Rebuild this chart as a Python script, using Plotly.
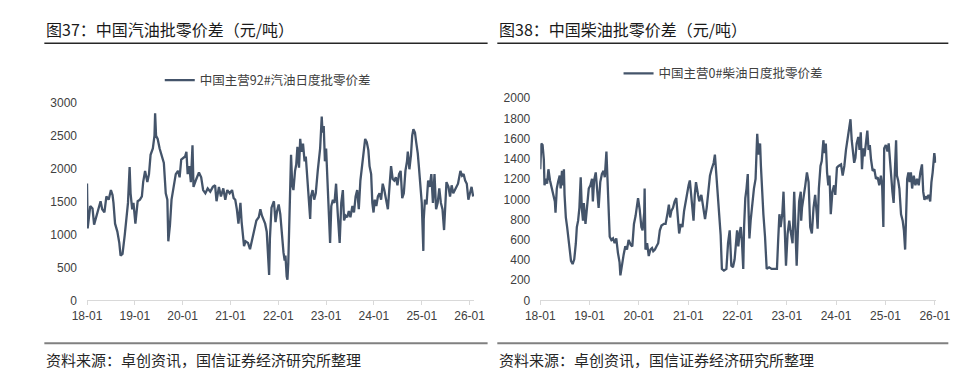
import numpy as np
import pandas as pd
import plotly.graph_objects as go

# ---------------- data ----------------
# x positions are months elapsed since 2018-01
gas_month = [
    0.0, 0.16, 0.81, 1.38, 1.78, 2.19, 2.75, 3.40, 3.81, 4.37, 4.86, 5.43, 6.0, 6.40, 6.64,
    7.04, 7.61, 8.10, 8.42, 8.91, 9.47, 9.88, 10.28, 10.69, 10.93, 11.34, 11.66, 12.14, 12.71,
    13.28, 13.77, 14.09, 14.57, 15.14, 15.55, 15.95, 16.52, 16.93, 17.09, 17.33, 17.73, 18.22,
    18.79, 19.28, 19.76, 20.16, 20.40, 20.81, 21.21, 21.78, 22.27, 22.83, 23.24, 23.64, 24.29,
    24.61, 24.94, 25.26, 25.67, 26.06, 26.47, 26.72, 27.28, 28.09, 28.65, 29.14, 29.70, 30.29,
    30.93, 31.58, 32.14, 32.5, 33.1, 33.6, 34.2, 34.7, 35.2, 35.8, 36.4, 36.8, 37.2, 37.6,
    38.0, 38.2, 38.5, 38.8, 39.2, 39.4, 39.8, 40.4, 40.9, 41.5, 41.9, 42.5, 43.1, 43.5, 43.9,
    44.3, 44.7, 45.1, 45.5, 45.7, 45.9, 46.3, 46.9, 47.3, 47.7, 48.1, 48.5, 48.7, 49.0, 49.3,
    49.6, 49.8, 50.1, 50.3, 50.5, 50.7, 51.0, 51.2, 51.5, 51.8, 52.2, 52.5, 52.8, 53.2, 53.5,
    53.8, 54.2, 54.6, 54.9, 55.3, 55.8, 56.0, 56.2, 56.6, 57.0, 57.4, 57.9, 58.2, 58.5, 58.9,
    59.1, 59.4, 59.7, 60.0, 60.3, 60.6, 61.0, 61.3, 61.7, 62.1, 62.5, 62.9, 63.1, 63.4, 63.8,
    64.2, 64.5, 64.9, 65.3, 65.7, 66.1, 66.6, 67.0, 67.4, 67.8, 68.2, 68.6, 69.0, 69.4, 69.8,
    70.2, 70.6, 70.9, 71.3, 71.6, 71.9, 72.2, 72.6, 73.0, 73.4, 73.8, 74.2, 74.6, 75.1, 75.5,
    75.9, 76.3, 76.7, 77.1, 77.5, 77.9, 78.3, 78.7, 79.1, 79.5, 79.9, 80.3, 80.5, 80.9, 81.3,
    81.6, 81.9, 82.3, 82.6, 83.0, 83.3, 83.7, 84.0, 84.4, 84.5, 84.8, 85.2, 85.6, 86.0, 86.4,
    86.8, 87.2, 87.6, 88.0, 88.4, 88.8, 89.2, 89.6, 89.9, 90.2, 90.7, 91.1, 91.5, 91.9, 92.5,
    93.1, 93.7, 94.1, 94.5, 94.9, 95.3, 95.7, 96.1, 96.5, 96.9,
]
gas_value = [
    1780, 1095, 1436, 1400, 1153, 1251, 1363, 1509, 1387, 1339, 1582, 1533, 1679, 1606, 1484,
    1168, 1047, 876, 682, 707, 998, 1290, 1484, 2029, 1630, 1387, 1484, 1168, 1509,
    1533, 1582, 1801, 1971, 1801, 1922, 2215, 2312, 2507, 2847, 2507, 2458, 2312,
    2190, 2093, 1631, 1533, 900, 1144, 1533, 1728, 1922, 1971, 1874, 2142, 2166,
    2190, 2260, 1922, 2044, 1801, 2360, 1728, 1825, 1947, 1874, 1680, 1630, 1704,
    1655, 1728, 1752, 1509, 1728, 1582, 1704, 1533, 1679, 1630, 1679, 1557, 1533, 1387,
    1168, 1338, 1484, 1192, 949, 827, 900, 876, 779, 949, 1095, 1217, 1265, 1387, 1290,
    1241, 1168, 1046, 608, 389, 949, 1411, 1509, 1192, 1362, 1460, 1314, 1144, 900, 730,
    608, 681, 365, 316, 560, 1144, 1874, 2215, 1752, 1679, 1971, 2068, 2336, 2020, 2458,
    2263, 2385, 2117, 2190, 1776, 1411, 1241, 1582, 1679, 1533, 1630, 1971, 2117, 2312, 2798,
    2555, 2652, 2117, 2312, 1874, 1241, 876, 1436, 1533, 1484, 1776, 1338, 1095, 876, 1484,
    1679, 1217, 1290, 1265, 1362, 1265, 1436, 1338, 1582, 1679, 1387, 1825, 2020, 2190, 2458,
    2409, 2287, 2044, 1922, 1484, 1338, 1533, 1436, 1582, 1630, 1533, 1776, 1679, 1484, 1387,
    1728, 2044, 1850, 1825, 1874, 1752, 1922, 1971, 1557, 1630, 1971, 2117, 2263, 1996, 2215,
    2507, 2604, 2555, 2409, 2239, 2020, 1752, 1484, 754, 1241, 1533, 1460, 1825, 1728, 1922,
    1484, 1922, 1387, 1484, 1704, 1484, 1387, 1071, 1387, 1801, 1728, 1582, 1752, 1630, 1704,
    1776, 1971, 1898, 1922, 1825, 1776, 1533, 1630, 1728, 1582,
]

diesel_month = [
    0.0, 0.24, 0.56, 0.87, 1.03, 1.35, 1.66, 1.98, 2.37, 2.76, 3.16, 3.55, 3.71, 4.02, 4.33,
    4.73, 4.96, 5.28, 5.59, 5.75, 5.91, 6.22, 6.54, 6.85, 7.17, 7.48, 7.87, 8.27, 8.66, 8.9,
    9.21, 9.52, 9.84, 10.1, 10.4, 10.6, 11.0, 11.4, 11.8, 12.2, 12.6, 12.8, 13.1, 13.5, 13.8,
    14.2, 14.6, 15.0, 15.4, 15.7, 16.1, 16.4, 16.7, 16.9, 17.3, 17.7, 18.1, 18.5, 18.9, 19.3,
    19.5, 19.9, 20.3, 20.7, 21.1, 21.5, 22.0, 22.4, 22.8, 23.2, 23.6, 23.8, 24.2, 24.6, 24.9,
    25.3, 25.4, 25.6, 26.0, 26.4, 26.8, 27.2, 27.5, 27.9, 28.3, 28.7, 29.1, 29.5, 30.1, 30.5,
    31.0, 31.3, 31.6, 31.9, 32.3, 32.7, 33.1, 33.5, 33.8, 34.2, 34.6, 35.0, 35.6, 36.1, 36.4,
    36.8, 37.3, 37.6, 37.9, 38.4, 38.7, 39.2, 39.7, 40.1, 40.5, 40.9, 41.3, 41.7, 42.2, 42.5,
    42.9, 43.3, 43.6, 43.9, 44.2, 44.7, 45.3, 45.7, 46.1, 46.5, 46.9, 47.3, 47.9, 48.2, 48.5,
    48.8, 49.1, 49.4, 49.6, 49.9, 50.2, 50.5, 50.7, 50.9, 51.2, 51.6, 52.0, 52.4, 52.6, 52.8,
    53.1, 53.5, 53.7, 54.0, 54.3, 54.7, 55.1, 55.7, 56.3, 57.1, 57.6, 57.9, 58.2, 58.5, 58.9,
    59.2, 59.5, 59.8, 60.2, 60.6, 60.9, 61.4, 61.8, 62.2, 62.4, 62.7, 63.0, 63.4, 63.5, 63.7,
    64.1, 64.5, 64.9, 65.3, 65.7, 66.1, 66.5, 66.9, 67.3, 67.5, 67.8, 68.2, 68.5, 68.9, 69.2,
    69.5, 69.8, 70.1, 70.4, 70.7, 71.1, 71.5, 71.8, 72.2, 72.6, 73.2, 73.6, 74.0, 74.4, 74.8,
    75.2, 75.5, 75.8, 76.1, 76.4, 76.7, 77.0, 77.4, 77.7, 78.0, 78.3, 78.6, 78.9, 79.2, 79.6,
    79.9, 80.2, 80.5, 80.9, 81.3, 81.7, 82.1, 82.5, 82.9, 83.2, 83.5, 83.7, 84.1, 84.5, 84.8,
    85.1, 85.4, 85.7, 86.0, 86.3, 86.6, 86.8, 87.1, 87.4, 87.8, 88.2, 88.5, 88.8, 89.0, 89.3,
    89.6, 89.9, 90.2, 90.5, 90.9, 91.3, 91.7, 92.1, 92.5, 92.9, 93.2, 93.5, 93.8, 94.1, 94.5,
    94.9, 95.2, 95.5, 95.9, 96.2,
]
diesel_value = [
    1298, 1553, 1537, 1394, 1139, 1203, 1155, 1298, 1187, 1107, 1044, 980, 869, 1107, 1171,
    1235, 1107, 1282, 1139, 1298, 1044, 821, 726, 598, 503, 391, 360, 407, 566, 726,
    789, 916, 1219, 916, 789, 964, 757, 916, 1107, 1139, 1203, 980, 1187, 1267, 1107,
    916, 1171, 1251, 1282, 1219, 1473, 1107, 916, 630, 598, 614, 566, 614, 471, 376,
    248, 376, 455, 535, 503, 598, 551, 535, 757, 837, 932, 1012, 900, 726, 694,
    869, 1107, 503, 566, 439, 503, 519, 487, 503, 535, 566, 694, 741, 757, 757,
    869, 948, 821, 885, 916, 980, 1012, 789, 662, 757, 726, 885, 1044, 1139, 1187,
    1012, 789, 1044, 1171, 1044, 980, 1044, 932, 805, 916, 1107, 1235, 1298, 1362, 1442,
    1203, 1012, 726, 646, 312, 296, 312, 566, 694, 344, 328, 407, 694, 535, 662,
    726, 566, 312, 726, 1012, 1107, 1251, 885, 614, 789, 980, 1107, 1203, 1489, 1648,
    1442, 1553, 1330, 1044, 853, 630, 312, 328, 312, 312, 312, 598, 853, 726, 853,
    1076, 726, 344, 662, 789, 694, 566, 1076, 535, 344, 694, 980, 1076, 789, 916,
    1012, 1139, 1267, 1171, 726, 662, 916, 1044, 853, 710, 1107, 1330, 1378, 1585, 1457,
    1553, 1267, 1139, 1235, 853, 1076, 1139, 1044, 1314, 1330, 1346, 1235, 1330, 1489, 1585,
    1712, 1792, 1585, 1489, 1362, 1410, 1553, 1617, 1489, 1664, 1298, 1505, 1426, 1537, 1680,
    1489, 1537, 1394, 1282, 1298, 1203, 1219, 1139, 1235, 1139, 726, 1505, 1537, 1473, 1553,
    1362, 1235, 1076, 964, 1267, 1585, 1235, 1187, 1107, 853, 789, 694, 503, 726, 1203,
    1267, 1171, 1267, 1107, 1235, 1139, 1203, 1139, 1267, 1346, 1076, 996, 1028, 1012, 1044,
    980, 1171, 1267, 1457, 1362,
]

tick_dates = ["2018-01-01", "2019-01-01", "2020-01-01", "2021-01-01", "2022-01-01",
              "2023-01-01", "2024-01-01", "2025-01-01", "2026-01-01"]
tick_labels = ["18-01", "19-01", "20-01", "21-01", "22-01", "23-01", "24-01", "25-01", "26-01"]

gas_name = "中国主营92#汽油日度批零价差"
diesel_name = "中国主营0#柴油日度批零价差"
title_left = "图37：中国汽油批零价差（元/吨）"
title_right = "图38：中国柴油批零价差（元/吨）"
source_text = "资料来源：卓创资讯，国信证券经济研究所整理"

# ---------------- figure ----------------
W, H = 965, 375
LINE = "#44546a"
CJK = "Noto Sans CJK SC"
NUM = "Liberation Sans, Noto Sans CJK SC"


def to_dates(months):
    return pd.Timestamp("2018-01-01") + pd.to_timedelta(np.array(months) * 30.4375, unit="D")


def px_x(p):
    return p / W


def px_y(p):
    return 1 - p / H


fig = go.Figure()
fig.add_trace(go.Scatter(x=to_dates(gas_month), y=gas_value, mode="lines", name=gas_name,
                         line=dict(color=LINE, width=2.3), xaxis="x", yaxis="y",
                         legend="legend", hoverinfo="skip"))
fig.add_trace(go.Scatter(x=to_dates(diesel_month), y=diesel_value, mode="lines", name=diesel_name,
                         line=dict(color=LINE, width=2.3), xaxis="x2", yaxis="y2",
                         legend="legend2", hoverinfo="skip"))

xcommon = dict(type="date", tickvals=tick_dates, ticktext=tick_labels, showgrid=False,
               zeroline=False, showline=True, linecolor="#d9d9d9", linewidth=1,
               ticks="outside", ticklen=4, tickcolor="#d9d9d9",
               tickfont=dict(family=NUM, size=12, color="#404040"))
ycommon = dict(showgrid=False, zeroline=False, showline=False, ticks="",
               ticklabelstandoff=9, tickfont=dict(family=NUM, size=12, color="#404040"))

fig.update_layout(
    width=W, height=H, margin=dict(l=0, r=0, t=0, b=0),
    paper_bgcolor="white", plot_bgcolor="white",
    xaxis=dict(domain=[px_x(66), px_x(465)], range=["2018-01-01", "2026-02-04"], anchor="y", **xcommon),
    yaxis=dict(domain=[px_y(296.5), px_y(91.7)], range=[0, 3000], dtick=500, anchor="x", **ycommon),
    xaxis2=dict(domain=[px_x(533.3), px_x(941.5)], range=["2018-01-01", "2026-01-12"], anchor="y2", **xcommon),
    yaxis2=dict(domain=[px_y(296.5), px_y(86.5)], range=[0, 2000], dtick=200, anchor="x2", **ycommon),
    legend=dict(x=px_x(141), y=px_y(68), xanchor="left", yanchor="middle", orientation="h",
                bgcolor="rgba(0,0,0,0)", font=dict(family=CJK, size=12.5, color="#404040")),
    legend2=dict(x=px_x(614), y=px_y(61), xanchor="left", yanchor="middle", orientation="h",
                 bgcolor="rgba(0,0,0,0)", font=dict(family=CJK, size=12.5, color="#404040")),
    showlegend=True,
)

annotations = []
shapes = []
for x0, x1, title in [(22, 479, title_left), (489, 954, title_right)]:
    annotations.append(dict(text=title, x=px_x(x0), y=px_y(15), xref="paper", yref="paper",
                            xanchor="left", yanchor="middle", showarrow=False,
                            font=dict(family=CJK, size=16, color="#1a1a1a")))
    annotations.append(dict(text=source_text, x=px_x(x0), y=px_y(358), xref="paper", yref="paper",
                            xanchor="left", yanchor="middle", showarrow=False,
                            font=dict(family=CJK, size=15, color="#262626")))
    shapes.append(dict(type="line", xref="paper", yref="paper", x0=px_x(x0), x1=px_x(x1),
                       y0=px_y(29.3), y1=px_y(29.3), line=dict(color="#262626", width=1.5)))
    shapes.append(dict(type="line", xref="paper", yref="paper", x0=px_x(x0), x1=px_x(x1),
                       y0=px_y(341), y1=px_y(341), line=dict(color="#808080", width=2)))

fig.update_layout(annotations=annotations, shapes=shapes)

fig.write_html("out.html")
